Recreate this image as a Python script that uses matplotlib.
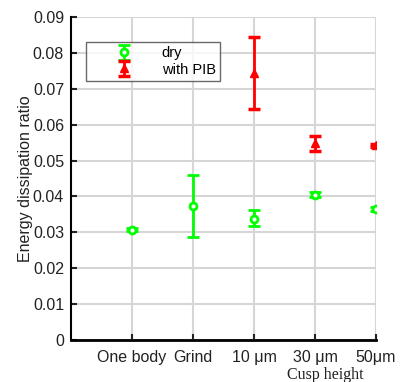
import matplotlib
matplotlib.use("Agg")
import matplotlib.pyplot as plt

plt.rcParams["font.family"] = ["Liberation Sans", "DejaVu Sans"]

categories = ["One body", "Grind", "10 \u03bcm", "30 \u03bcm", "50\u03bcm"]
dry_x = [1, 2, 3, 4, 5]
dry_y = [0.0307, 0.0373, 0.0337, 0.0405, 0.0365]
dry_lo = [0.0004, 0.0086, 0.0019, 0.0006, 0.0006]
dry_hi = [0.0004, 0.0087, 0.0025, 0.0006, 0.0006]
pib_x = [3, 4, 5]
pib_y = [0.0744, 0.0549, 0.0543]
pib_lo = [0.0100, 0.0022, 0.0004]
pib_hi = [0.0100, 0.0019, 0.0004]

fig = plt.figure(figsize=(4.07, 3.82), dpi=100)
ax = fig.add_axes([71/407, 1-340/382, (376-71)/407, (340-17)/382])

green = "#00ff00"
red = "#ff0000"
ax.errorbar(dry_x, dry_y, yerr=[dry_lo, dry_hi], fmt="o", color=green, mfc="white",
            mec=green, mew=2, ms=5, elinewidth=2, capsize=4.5, capthick=2.5, label="dry", zorder=3)
ax.errorbar(pib_x, pib_y, yerr=[pib_lo, pib_hi], fmt="^", color=red, mfc=red,
            mec=red, ms=6, elinewidth=2, capsize=4.5, capthick=2.5, label="with PIB", zorder=3)

ax.set_xlim(0, 5)
ax.set_ylim(0, 0.09)
ax.set_yticks([i * 0.01 for i in range(10)])
ax.set_yticklabels(["0"] + ["%.2f" % (i * 0.01) for i in range(1, 10)])
ax.set_xticks([1, 2, 3, 4, 5])
ax.set_xticklabels(categories)
ax.grid(True, color="#d6d6d6", linewidth=1.5)
ax.set_axisbelow(True)
for s in ["top", "right"]:
    ax.spines[s].set_visible(False)
ax.spines["left"].set_linewidth(1.5)
ax.spines["bottom"].set_linewidth(2)
ax.tick_params(axis="both", direction="in", labelsize=11.5, length=4, width=1.5,
               colors="#222222", labelcolor="#222222")
ax.tick_params(axis="x", pad=7)
ax.tick_params(axis="y", pad=5)
ax.set_ylabel("Energy dissipation ratio", fontsize=11.5, color="#222222")
ax.yaxis.set_label_coords(-0.125, 0.5)

leg = ax.legend(loc="upper left", bbox_to_anchor=(15/305, 1-25/323), fontsize=10.5,
                frameon=True, fancybox=False, edgecolor="#444444", borderpad=0.3,
                handletextpad=0.3, borderaxespad=0, labelspacing=0.15, handlelength=4.6)
leg.get_frame().set_linewidth(1)

fig.text(325/407, 1-375/382, "Cusp height", fontsize=11.5, family="Liberation Serif",
         ha="center", va="center", color="#222222")

fig.savefig("out.png", dpi=100)
